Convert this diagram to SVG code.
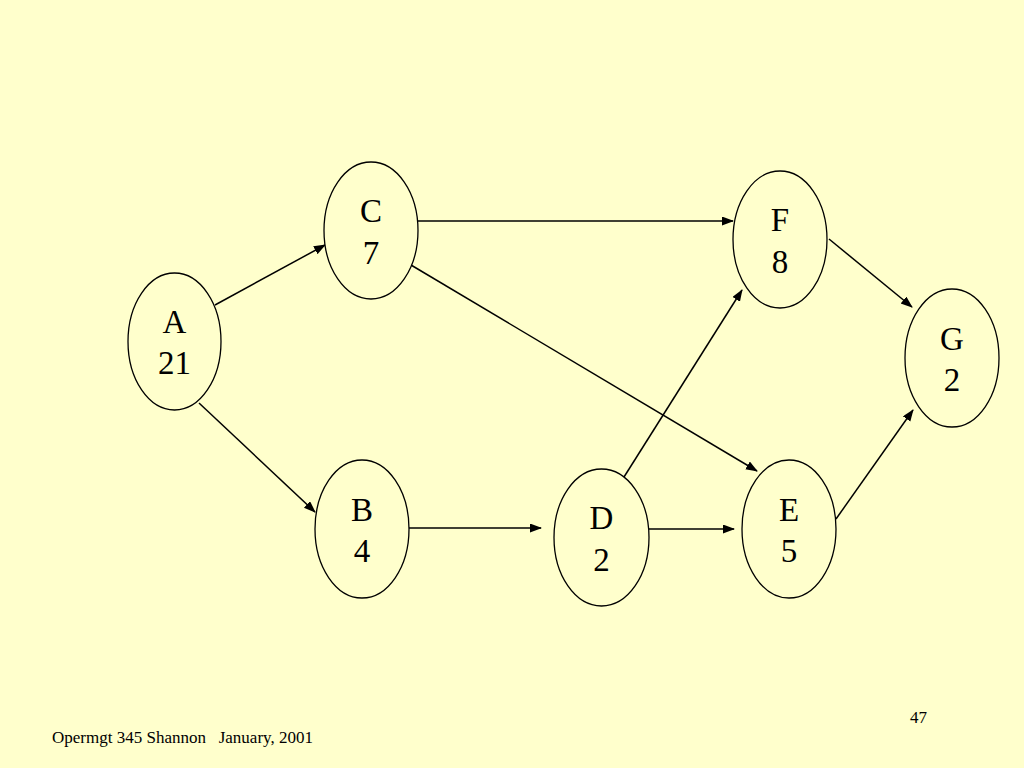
<svg xmlns="http://www.w3.org/2000/svg" width="1024" height="768" viewBox="0 0 1024 768">
<style>
.node ellipse{fill:#FFFFCC;stroke:#000;stroke-width:1.3}
.node text{font-family:"Liberation Serif","Times New Roman",serif;font-size:33px;fill:#000;text-anchor:middle}
.edges line{stroke:#000;stroke-width:1.5;marker-end:url(#arr)}
.foot{font-family:"Liberation Serif","Times New Roman",serif;fill:#000}
</style>
<defs>
<marker id="arr" markerUnits="userSpaceOnUse" markerWidth="12" markerHeight="10" refX="11" refY="4.5" orient="auto">
<path d="M0,0 L12,4.5 L0,9 Z" fill="#000"/>
</marker>
</defs>
<rect width="1024" height="768" fill="#FFFFCC"/>
<g class="edges">
<line x1="215" y1="305" x2="325" y2="245"/>
<line x1="199" y1="403" x2="315" y2="512"/>
<line x1="418" y1="221" x2="733" y2="221"/>
<line x1="411" y1="265" x2="757" y2="471"/>
<line x1="829" y1="239" x2="912" y2="307"/>
<line x1="409" y1="528" x2="541" y2="528"/>
<line x1="624" y1="477" x2="742" y2="290"/>
<line x1="649" y1="529" x2="734" y2="529"/>
<line x1="836" y1="519" x2="913" y2="410"/>
</g>
<g id="A" class="node"><ellipse cx="174.5" cy="341.5" rx="46.5" ry="68.5"/><text x="174.5" y="333">A</text><text x="174.5" y="374">21</text></g>
<g id="C" class="node"><ellipse cx="371" cy="230.5" rx="47" ry="68.5"/><text x="371" y="222">C</text><text x="371" y="264">7</text></g>
<g id="F" class="node"><ellipse cx="780" cy="239.5" rx="47" ry="68.5"/><text x="780" y="231">F</text><text x="780" y="273">8</text></g>
<g id="G" class="node"><ellipse cx="952" cy="358" rx="47" ry="69"/><text x="952" y="350">G</text><text x="952" y="391">2</text></g>
<g id="B" class="node"><ellipse cx="362" cy="529" rx="47" ry="69"/><text x="362" y="521">B</text><text x="362" y="562">4</text></g>
<g id="D" class="node"><ellipse cx="601.5" cy="537.5" rx="47.5" ry="68.5"/><text x="601.5" y="529">D</text><text x="601.5" y="571">2</text></g>
<g id="E" class="node"><ellipse cx="789" cy="529" rx="47" ry="69"/><text x="789" y="521">E</text><text x="789" y="562">5</text></g>
<text class="foot" x="52" y="743" font-size="17" xml:space="preserve">Opermgt 345 Shannon   January, 2001</text>
<text class="foot" x="910" y="723" font-size="17">47</text>
</svg>
